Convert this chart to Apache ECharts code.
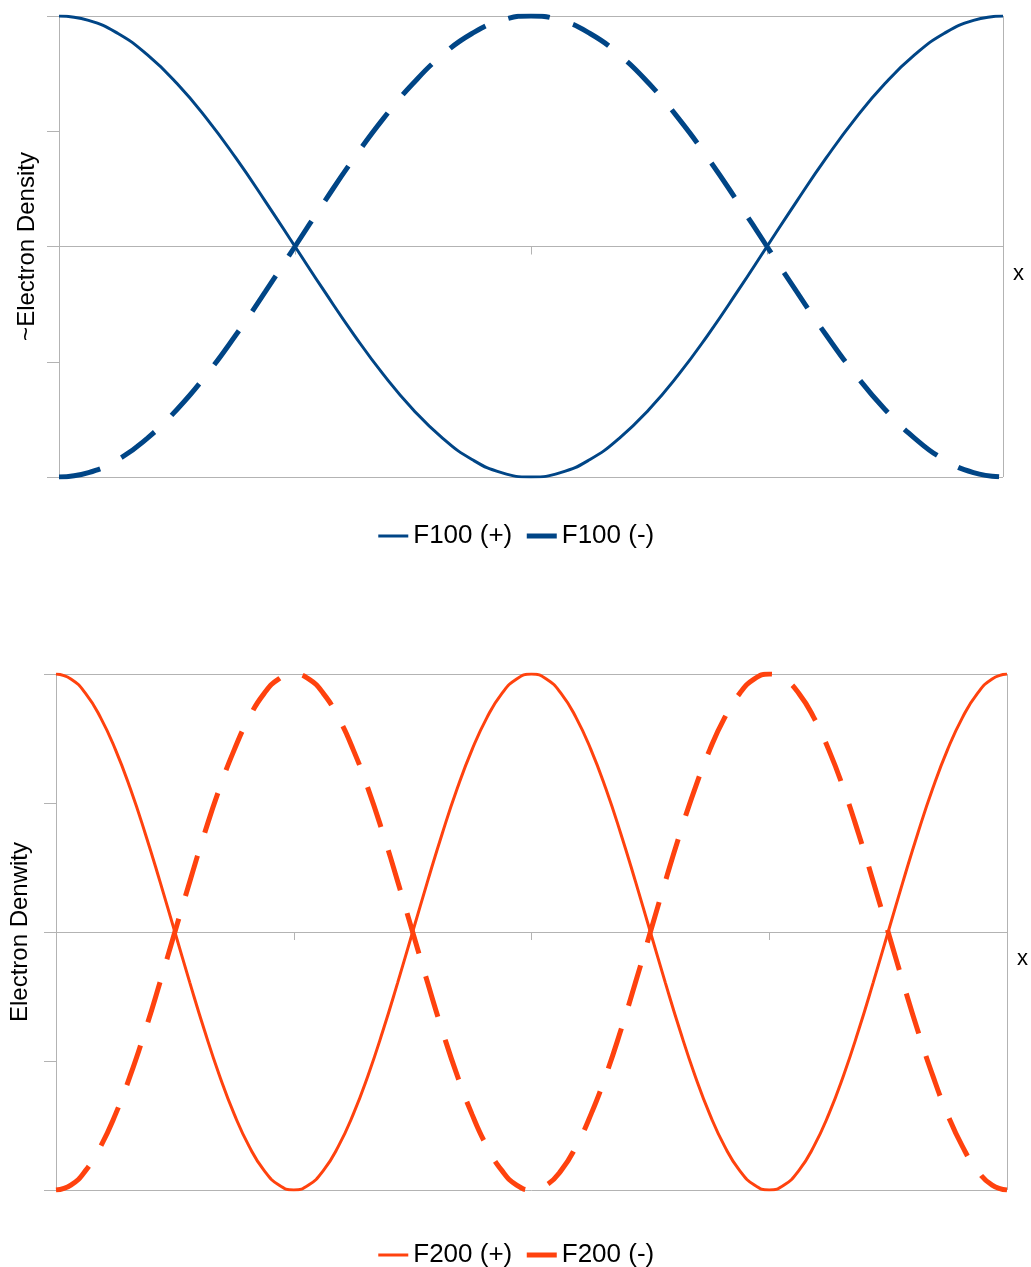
<!DOCTYPE html>
<html lang="en">
<head>
    <meta charset="UTF-8">
    <title>Electron density F100 / F200</title>
    <style>
        html, body {
            margin: 0;
            background: #fff;
        }

        #chart {
            width: 1031px;
            height: 1267px;
        }
    </style>
</head>
<body>
    <div id="chart"></div>

    <script src="https://cdn.jsdelivr.net/npm/echarts@6/dist/echarts.min.js"></script>
    <script>
        // x positions (0..4 quarters of the cell)
        var xTop = [0, 0.125, 0.25, 0.375, 0.5, 0.625, 0.75, 0.875, 1, 1.125, 1.25, 1.375, 1.5, 1.625, 1.75, 1.875,
            2, 2.125, 2.25, 2.375, 2.5, 2.625, 2.75, 2.875, 3, 3.125, 3.25, 3.375, 3.5, 3.625, 3.75, 3.875, 4];

        var f100Plus = [1, 0.981, 0.924, 0.831, 0.707, 0.556, 0.383, 0.195, 0, -0.195, -0.383, -0.556, -0.707, -0.831, -0.924, -0.981,
            -1, -0.981, -0.924, -0.831, -0.707, -0.556, -0.383, -0.195, 0, 0.195, 0.383, 0.556, 0.707, 0.831, 0.924, 0.981, 1];
        var f100Minus = [-1, -0.981, -0.924, -0.831, -0.707, -0.556, -0.383, -0.195, 0, 0.195, 0.383, 0.556, 0.707, 0.831, 0.924, 0.981,
            1, 0.981, 0.924, 0.831, 0.707, 0.556, 0.383, 0.195, 0, -0.195, -0.383, -0.556, -0.707, -0.831, -0.924, -0.981, -1];

        var xBottom = [0, 0.0625, 0.125, 0.1875, 0.25, 0.3125, 0.375, 0.4375, 0.5, 0.5625, 0.625, 0.6875, 0.75, 0.8125, 0.875, 0.9375,
            1, 1.0625, 1.125, 1.1875, 1.25, 1.3125, 1.375, 1.4375, 1.5, 1.5625, 1.625, 1.6875, 1.75, 1.8125, 1.875, 1.9375,
            2, 2.0625, 2.125, 2.1875, 2.25, 2.3125, 2.375, 2.4375, 2.5, 2.5625, 2.625, 2.6875, 2.75, 2.8125, 2.875, 2.9375,
            3, 3.0625, 3.125, 3.1875, 3.25, 3.3125, 3.375, 3.4375, 3.5, 3.5625, 3.625, 3.6875, 3.75, 3.8125, 3.875, 3.9375, 4];

        var f200Plus = [1, 0.981, 0.924, 0.831, 0.707, 0.556, 0.383, 0.195, 0, -0.195, -0.383, -0.556, -0.707, -0.831, -0.924, -0.981,
            -1, -0.981, -0.924, -0.831, -0.707, -0.556, -0.383, -0.195, 0, 0.195, 0.383, 0.556, 0.707, 0.831, 0.924, 0.981,
            1, 0.981, 0.924, 0.831, 0.707, 0.556, 0.383, 0.195, 0, -0.195, -0.383, -0.556, -0.707, -0.831, -0.924, -0.981,
            -1, -0.981, -0.924, -0.831, -0.707, -0.556, -0.383, -0.195, 0, 0.195, 0.383, 0.556, 0.707, 0.831, 0.924, 0.981, 1];
        var f200Minus = [-1, -0.981, -0.924, -0.831, -0.707, -0.556, -0.383, -0.195, 0, 0.195, 0.383, 0.556, 0.707, 0.831, 0.924, 0.981,
            1, 0.981, 0.924, 0.831, 0.707, 0.556, 0.383, 0.195, 0, -0.195, -0.383, -0.556, -0.707, -0.831, -0.924, -0.981,
            -1, -0.981, -0.924, -0.831, -0.707, -0.556, -0.383, -0.195, 0, 0.195, 0.383, 0.556, 0.707, 0.831, 0.924, 0.981,
            1, 0.981, 0.924, 0.831, 0.707, 0.556, 0.383, 0.195, 0, -0.195, -0.383, -0.556, -0.707, -0.831, -0.924, -0.981, -1];

        var yNames = ['~Electron Density', 'Electron Denwity'];
        var blue = '#004586';
        var orange = '#ff420e';
        var gridGray = '#b3b3b3';
        var font = '"Liberation Sans", Arial, sans-serif';

        function pairs(xs, ys) {
            return xs.map(function(x, i) { return [x, ys[i]]; });
        }

        function xAxisFor(idx) {
            return {
                gridIndex: idx,
                type: 'value',
                min: 0,
                max: 4,
                interval: 4,
                name: 'x',
                nameLocation: 'end',
                nameGap: 10,
                nameTextStyle: { color: '#000', fontSize: 22, fontFamily: font, verticalAlign: 'top', padding: [16, 0, 0, 0] },
                axisLine: { lineStyle: { color: gridGray, width: 1 } },
                axisTick: { show: true, length: 8, lineStyle: { color: gridGray } },
                minorTick: { show: true, splitNumber: 4, length: 8, lineStyle: { color: gridGray } },
                axisLabel: { show: false },
                splitLine: { show: true, lineStyle: { color: gridGray, width: 1 } }
            };
        }

        function yAxisFor(idx, gap) {
            return {
                gridIndex: idx,
                type: 'value',
                min: -1,
                max: 1,
                interval: 1,
                name: yNames[idx],
                nameLocation: 'middle',
                nameGap: gap,
                nameTextStyle: { color: '#000', fontSize: 24, fontFamily: font },
                axisLine: { show: true, lineStyle: { color: gridGray, width: 1 } },
                axisTick: { show: true, length: 12, lineStyle: { color: gridGray } },
                minorTick: { show: true, splitNumber: 2, length: 12, lineStyle: { color: gridGray } },
                axisLabel: { show: false },
                splitLine: { show: true, lineStyle: { color: gridGray, width: 1 } }
            };
        }

        function lineSeries(name, idx, xs, ys, color, dashed) {
            return {
                name: name,
                type: 'line',
                xAxisIndex: idx,
                yAxisIndex: idx,
                data: pairs(xs, ys),
                smooth: 0.5,
                symbol: 'none',
                animation: false,
                lineStyle: dashed
                    ? { color: color, width: 5, type: [42, 24], cap: 'butt' }
                    : { color: color, width: 3 },
                itemStyle: { color: color }
            };
        }

        function legendFor(top, names, color) {
            return {
                top: top,
                left: 'center',
                itemWidth: 30,
                itemHeight: 14,
                itemGap: 12,
                textStyle: { color: '#000', fontSize: 26, fontFamily: font },
                data: [
                    { name: names[0], itemStyle: { opacity: 0 }, lineStyle: { width: 3, type: 'solid', color: color } },
                    { name: names[1], itemStyle: { opacity: 0 }, lineStyle: { width: 5, type: 'solid', color: color } }
                ]
            };
        }

        var myChart = echarts.init(document.getElementById('chart'));

        myChart.setOption({
            animation: false,
            grid: [
                { left: 59, right: 28, top: 16, height: 461 },
                { left: 55, right: 24, top: 674, height: 516 }
            ],
            legend: [
                legendFor(518, ['F100 (+)', 'F100 (-)'], blue),
                legendFor(1237, ['F200 (+)', 'F200 (-)'], orange)
            ],
            xAxis: [xAxisFor(0), xAxisFor(1)],
            yAxis: [yAxisFor(0, 20), yAxisFor(1, 24)],
            series: [
                lineSeries('F100 (+)', 0, xTop, f100Plus, blue, false),
                lineSeries('F100 (-)', 0, xTop, f100Minus, blue, true),
                lineSeries('F200 (+)', 1, xBottom, f200Plus, orange, false),
                lineSeries('F200 (-)', 1, xBottom, f200Minus, orange, true)
            ]
        });
    </script>
</body>
</html>
